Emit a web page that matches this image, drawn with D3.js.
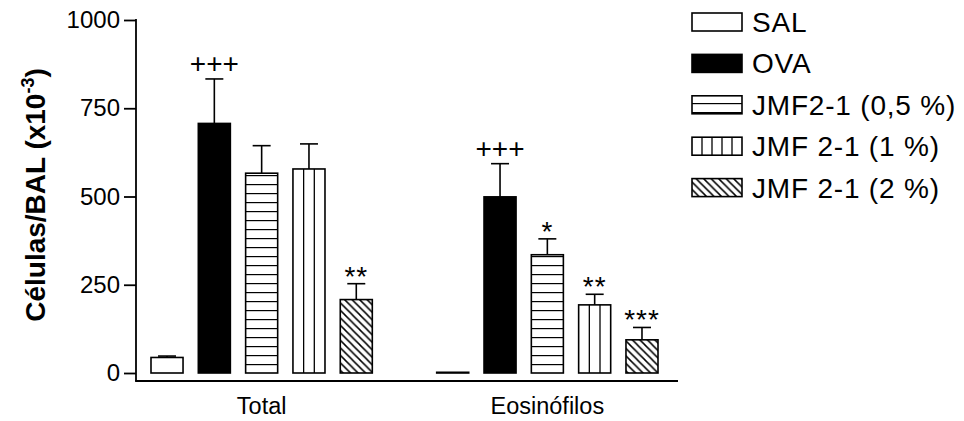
<!DOCTYPE html>
<meta charset="utf-8">
<script src="https://d3js.org/d3.v7.min.js"></script>
<style>
  body { margin: 0; background: #fff; }
  text { font-family: "Liberation Sans", Arial, sans-serif; fill: #000; }
</style>
<div id="my_dataviz"></div>
<script>

// data
var groups = ["Total", "Eosinófilos"];
var series = ["SAL", "OVA", "JMF2-1 (0,5 %)", "JMF 2-1 (1 %)", "JMF 2-1 (2 %)"];
var totalMean = [44, 707, 566, 578, 208];
var totalErr  = [4, 126, 78, 71, 45];
var eosMean   = [2, 499, 335, 193, 94];
var eosErr    = [0, 94, 45, 30, 35];
var totalSig  = ["", "+++", "", "", "**"];
var eosSig    = ["", "+++", "*", "**", "***"];
var yTicks    = [0, 250, 500, 750, 1000];

// fill style per series
var fills = ["white", "black", "hlines", "vlines", "diag"];

var width = 964, height = 421;
var axisX = 136, axisY = 381;

var svg = d3.select("#my_dataviz")
  .append("svg")
    .attr("width", width)
    .attr("height", height);

// patterns
var defs = svg.append("defs");
var y = d3.scaleLinear()
  .domain([0, 1000])
  .range([373, 20]);

defs.append("pattern")
    .attr("id", "hlines")
    .attr("patternUnits", "userSpaceOnUse")
    .attr("width", 10).attr("height", 9)
    .attr("y", y(0))
  .call(function(p) {
    p.append("rect").attr("width", 10).attr("height", 9).attr("fill", "white");
    p.append("line").attr("x1", 0).attr("x2", 10).attr("y1", 0).attr("y2", 0)
      .attr("stroke", "black").attr("stroke-width", 2.4);
  });

defs.append("pattern")
    .attr("id", "diag")
    .attr("patternUnits", "userSpaceOnUse")
    .attr("width", 7.5).attr("height", 7.5)
  .call(function(p) {
    p.append("rect").attr("width", 7.5).attr("height", 7.5).attr("fill", "white");
    p.append("path")
      .attr("d", "M0,0L7.5,7.5M-2,5.5L2,9.5M5.5,-2L9.5,2")
      .attr("stroke", "black").attr("stroke-width", 1.5);
  });

// draws a hatched box at the given rectangle
function drawBox(g, kind, x0, y0, w, h) {
  var f = kind === "hlines" ? "url(#hlines)"
        : kind === "diag" ? "url(#diag)"
        : kind === "black" ? "black" : "white";
  g.append("rect")
    .attr("x", x0).attr("y", y0).attr("width", w).attr("height", h)
    .attr("fill", f);
  if (kind === "vlines") {
    var n = Math.round(w / 10.5);
    for (var k = 1; k < n; k++) {
      g.append("line")
        .attr("x1", x0 + k * w / n).attr("x2", x0 + k * w / n)
        .attr("y1", y0).attr("y2", y0 + h)
        .attr("stroke", "black").attr("stroke-width", 1.3);
    }
  }
  g.append("rect")
    .attr("x", x0).attr("y", y0).attr("width", w).attr("height", h)
    .attr("fill", "none")
    .attr("stroke", "black")
    .attr("stroke-width", 1.6);
}

// X scales
var x0 = d3.scaleBand()
  .domain(groups)
  .range([131, 678])
  .paddingInner(0.2254)
  .paddingOuter(0.07);

var x1 = d3.scaleBand()
  .domain(series)
  .range([0, x0.bandwidth()])
  .paddingInner(0.323)
  .paddingOuter(0);

// Y axis
var yAxis = svg.append("g")
  .attr("transform", "translate(" + axisX + ",0)")
  .call(d3.axisLeft(y).tickValues(yTicks).tickFormat(d3.format("d"))
    .tickSize(12).tickPadding(4).tickSizeOuter(0));
yAxis.select(".domain").remove();
yAxis.selectAll(".tick line").attr("stroke", "black").attr("stroke-width", 1.8);
yAxis.selectAll(".tick text")
  .style("font-family", "'Liberation Sans', Arial, sans-serif")
  .style("font-size", "24px")
  .attr("fill", "black");

svg.append("line")
  .attr("x1", axisX).attr("x2", axisX)
  .attr("y1", y(1000) - 0.9).attr("y2", axisY)
  .attr("stroke", "black").attr("stroke-width", 1.8);

// X axis
svg.append("line")
  .attr("x1", axisX - 0.9).attr("x2", x0.range()[1])
  .attr("y1", axisY).attr("y2", axisY)
  .attr("stroke", "black").attr("stroke-width", 1.8);

svg.selectAll(".glabel")
  .data(groups)
  .enter()
  .append("text")
    .attr("x", function(d) { return x0(d) + x0.bandwidth() / 2; })
    .attr("y", 414)
    .style("text-anchor", "middle")
    .style("font-size", "23.5px")
    .text(function(d) { return d; });

// Bars
var groupData = [
  {name: groups[0], mean: totalMean, err: totalErr, sig: totalSig},
  {name: groups[1], mean: eosMean, err: eosErr, sig: eosSig}
];

var bars = svg.append("g");
groupData.forEach(function(gd) {
  series.forEach(function(s, i) {
    var bx = x0(gd.name) + x1(s);
    var bw = x1.bandwidth();
    var top = y(gd.mean[i]);
    var cx = bx + bw / 2;
    // error bar (upper only)
    if (gd.err[i] > 0) {
      var et = y(gd.mean[i] + gd.err[i]);
      bars.append("line")
        .attr("x1", cx).attr("x2", cx).attr("y1", top).attr("y2", et)
        .attr("stroke", "black").attr("stroke-width", 1.6);
      bars.append("line")
        .attr("x1", cx - 9).attr("x2", cx + 9).attr("y1", et).attr("y2", et)
        .attr("stroke", "black").attr("stroke-width", 1.6);
    }
    drawBox(bars, fills[i], bx, top, bw, y(0) - top);
    // significance marks
    if (gd.sig[i]) {
      var errTop = y(gd.mean[i] + gd.err[i]);
      var off = gd.sig[i].charAt(0) === "+" ? -6 : 2;
      bars.append("text")
        .attr("x", cx)
        .attr("y", errTop + off)
        .style("text-anchor", "middle")
        .style("font-size", "28px")
        .style("letter-spacing", gd.sig[i].charAt(0) === "*" ? "1px" : "0px")
        .text(gd.sig[i]);
    }
  });
});

// Y axis label
svg.append("text")
  .attr("transform", "translate(45,195) rotate(-90)")
  .style("text-anchor", "middle")
  .style("font-size", "28px")
  .style("font-weight", "bold")
  .call(function(t) {
    t.append("tspan").text("Células/BAL (x10");
    t.append("tspan").attr("dy", -11).style("font-size", "18px").text("-3");
    t.append("tspan").attr("dy", 11).text(")");
  });

// Legend
var legend = svg.append("g");
series.forEach(function(s, i) {
  var cy = 22 + i * 41.4;
  drawBox(legend, fills[i], 692, cy - 9, 50, 18);
  legend.append("text")
    .attr("x", 752)
    .attr("y", cy + 10)
    .style("font-size", "28px")
    .style("letter-spacing", "0.8px")
    .text(s);
});

</script>
